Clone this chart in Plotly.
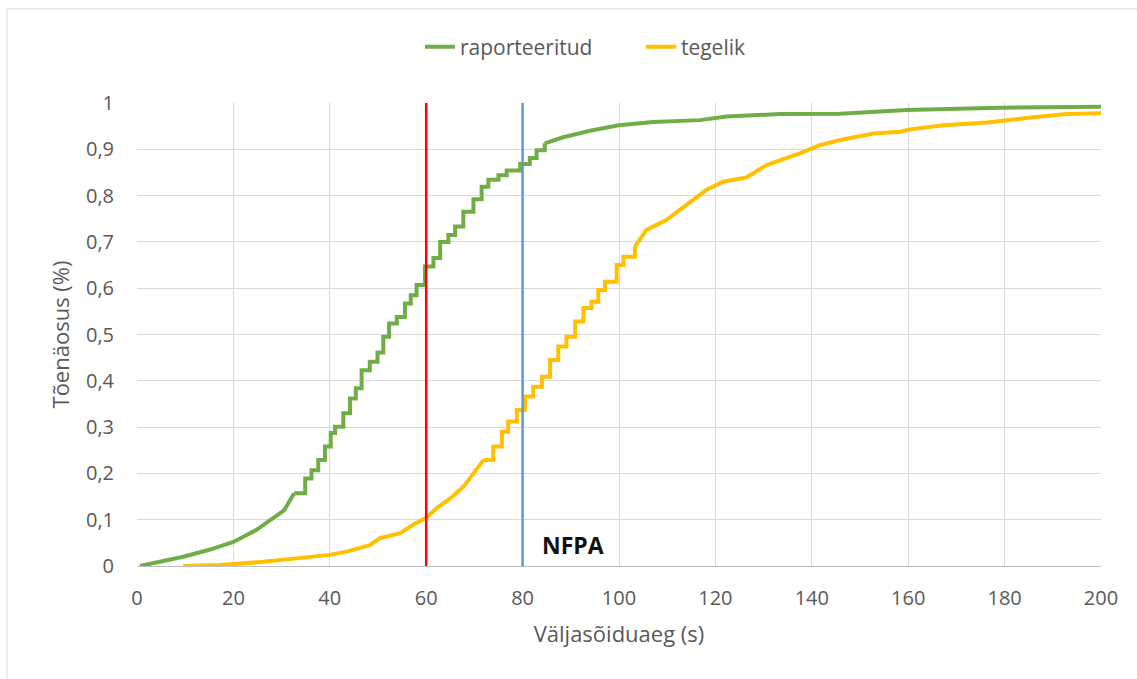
import plotly.graph_objects as go

# ---- data ----
green_x = [0.6, 5, 9.6, 15, 20, 24.8, 28.3, 30.5, 32.6, 34.9, 36.2, 37.6, 39.0, 40.2, 41.1, 42.8,
           44.2, 45.4, 46.6, 48.3, 49.9, 51.1, 52.3, 53.9, 55.6, 56.8, 58.0, 59.75, 61.5, 62.9,
           64.6, 66.0, 67.7, 69.8, 71.5, 72.9, 75.0, 76.7, 79.5, 81.5, 82.9, 84.6, 88.4, 94,
           99.9, 107.1, 116.8, 122.3, 133.4, 145.9, 154.1, 159.7, 179, 200]
green_y = [0, 0.01, 0.02, 0.035, 0.052, 0.078, 0.103, 0.12, 0.157, 0.189, 0.207, 0.229, 0.258,
           0.287, 0.301, 0.330, 0.362, 0.384, 0.423, 0.441, 0.461, 0.495, 0.524, 0.538, 0.567,
           0.585, 0.607, 0.647, 0.665, 0.700, 0.715, 0.733, 0.765, 0.792, 0.819, 0.834, 0.844,
           0.854, 0.868, 0.881, 0.898, 0.913, 0.926, 0.940, 0.952, 0.959, 0.963, 0.971, 0.976,
           0.977, 0.983, 0.985, 0.990, 0.992]

yellow_x = [9.6, 17.2, 26.2, 34.5, 40, 43.5, 48.3, 50.4, 54.6, 57.3, 59.8, 62.2, 65, 67.7, 69.8,
            71.9, 73.9, 75.7, 77.0, 78.8, 80.5, 82.2, 84.0, 85.7, 87.4, 89.1, 90.9, 92.6, 94.3,
            95.7, 97.1, 99.5, 100.9, 103.3, 105.7, 109.8, 114, 118.1, 121.6, 126.4, 130.6,
            134.7, 137.5, 141.7, 145.9, 152.8, 158.3, 160.4, 167.3, 176.3, 180.4, 185.9, 192.9, 200]
yellow_y = [0, 0.002, 0.009, 0.017, 0.024, 0.031, 0.045, 0.060, 0.071, 0.089, 0.103, 0.125,
            0.146, 0.171, 0.200, 0.229, 0.258, 0.290, 0.312, 0.337, 0.366, 0.387, 0.409, 0.445,
            0.474, 0.495, 0.528, 0.557, 0.571, 0.596, 0.614, 0.650, 0.668, 0.690, 0.726, 0.747,
            0.780, 0.812, 0.830, 0.839, 0.866, 0.881, 0.891, 0.909, 0.920, 0.934, 0.938, 0.943,
            0.952, 0.958, 0.963, 0.969, 0.976, 0.978]

# x-range over which each curve shows a visible staircase
green_step_range = (32.6, 84.6)
yellow_step_range = (71.9, 103.3)

series_names = ["raporteeritud", "tegelik"]
series_colors = ["#70ad47", "#ffc000"]
red_line_x = 60
blue_line_x = 80
nfpa_label = "NFPA"
x_ticks = [0, 20, 40, 60, 80, 100, 120, 140, 160, 180, 200]
y_ticks = [0, 0.1, 0.2, 0.3, 0.4, 0.5, 0.6, 0.7, 0.8, 0.9, 1]
y_tick_labels = ["0", "0,1", "0,2", "0,3", "0,4", "0,5", "0,6", "0,7", "0,8", "0,9", "1"]

FONT = "'Open Sans', sans-serif"
GRAY = "#595959"


def add_series(fig, xs, ys, step_range, name, color):
    lo, hi = step_range
    pre = [(x, y) for x, y in zip(xs, ys) if x <= lo]
    mid = [(x, y) for x, y in zip(xs, ys) if lo <= x <= hi]
    post = [(x, y) for x, y in zip(xs, ys) if x >= hi]
    parts = [(pre, "linear"), (mid, "hv"), (post, "linear")]
    for i, (pts, shape) in enumerate(parts):
        fig.add_trace(go.Scatter(
            x=[p[0] for p in pts], y=[p[1] for p in pts], mode="lines", name=name,
            legendgroup=name, showlegend=(i == 0),
            line=dict(color=color, width=4, shape=shape)))


fig = go.Figure()
add_series(fig, green_x, green_y, green_step_range, series_names[0], series_colors[0])
add_series(fig, yellow_x, yellow_y, yellow_step_range, series_names[1], series_colors[1])

fig.add_trace(go.Scatter(x=[red_line_x, red_line_x], y=[0, 1], mode="lines", showlegend=False,
                         line=dict(color="#ff0000", width=2.5), hoverinfo="skip"))
fig.add_trace(go.Scatter(x=[blue_line_x, blue_line_x], y=[0, 1], mode="lines", showlegend=False,
                         line=dict(color="#5b9bd5", width=2.5), hoverinfo="skip"))

fig.add_annotation(x=83.6, y=0.046, text="<b>" + nfpa_label + "</b>", showarrow=False,
                   xanchor="left", yanchor="middle",
                   font=dict(family=FONT, size=23, color="#111111"))

# outer chart frame (left and top edges visible)
fig.add_shape(type="line", xref="paper", yref="paper", x0=-0.1349, x1=-0.1349, y0=1.203, y1=-0.3,
              line=dict(color="#d9d9d9", width=1))
fig.add_shape(type="line", xref="paper", yref="paper", x0=-0.1349, x1=1.1, y0=1.203, y1=1.203,
              line=dict(color="#d9d9d9", width=1))

fig.update_layout(
    width=1137, height=679,
    margin=dict(l=137, r=36, t=103, b=113),
    paper_bgcolor="white", plot_bgcolor="white",
    font=dict(family=FONT, color=GRAY, size=18),
    legend=dict(orientation="h", x=0.2935, y=1.121, xanchor="left", yanchor="middle",
                font=dict(family=FONT, size=21, color=GRAY), bgcolor="rgba(0,0,0,0)",
                entrywidth=176, entrywidthmode="pixels"),
    xaxis=dict(range=[0, 200], tickvals=x_ticks, ticks="", showgrid=True, gridcolor="#d9d9d9",
               gridwidth=1, showline=True, linecolor="#bfbfbf", linewidth=1, zeroline=False,
               tickfont=dict(size=20, color=GRAY), ticklabelstandoff=14,
               title=dict(text="Väljasõiduaeg (s)", font=dict(size=22, color=GRAY), standoff=16)),
    yaxis=dict(range=[0, 1], tickvals=y_ticks, ticktext=y_tick_labels, ticks="", showgrid=True,
               gridcolor="#d9d9d9", gridwidth=1, zeroline=False, showline=False,
               tickfont=dict(size=20, color=GRAY), ticklabelstandoff=22,
               title=dict(text="Tõenäosus (%)", font=dict(size=22, color=GRAY), standoff=10)),
)

fig.write_html("out.html")
